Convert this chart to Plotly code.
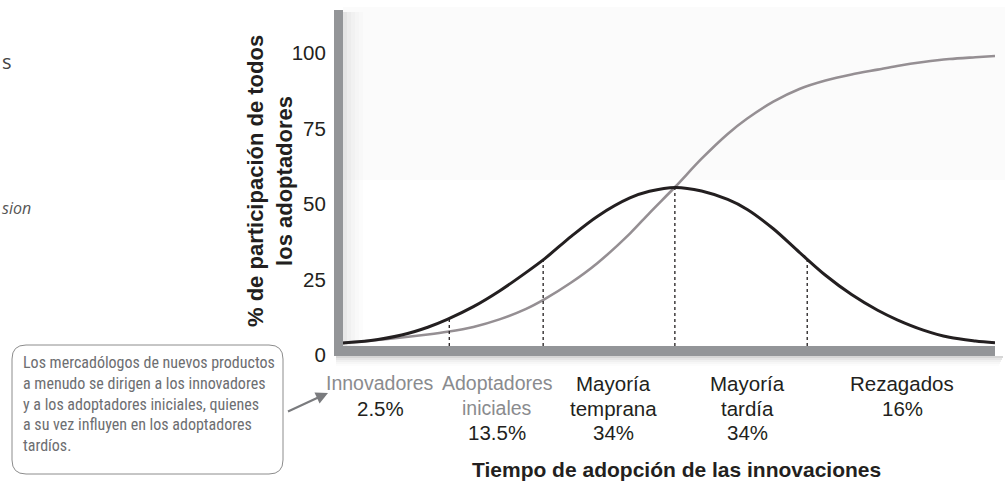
import plotly.graph_objects as go

# ---------------- data ----------------
time_x = [0, 4, 9, 13, 16, 20, 24, 28, 31, 35, 39, 44, 47, 51, 55, 59, 62, 66, 70, 74, 78, 82, 85, 89, 93, 97, 100]
adopters_pct = [4.0, 4.7, 6.6, 9.2, 11.8, 16.0, 21.2, 27.2, 32.0, 39.3, 45.9, 52.0, 54.2, 55.5, 54.3, 51.5,
                48.2, 41.8, 34.0, 26.4, 20.0, 14.8, 11.65, 8.25, 5.85, 4.65, 4.05]
cumulative_pct = [4.0, 4.7, 5.8, 6.8, 7.7, 9.3, 11.8, 15.2, 18.6, 24.0, 30.4, 40.2, 47.0, 55.8, 65.0, 73.2,
                  78.3, 83.9, 88.1, 90.9, 92.9, 94.5, 95.7, 97.0, 98.0, 98.6, 99.0]

divider_x = [16.3, 30.7, 50.9, 71.2]
divider_top = [12.0, 31.5, 55.5, 31.7]
divider_bottom = 3.0

y_ticks = [0, 25, 50, 75, 100]

cat_names = [["Innovadores"], ["Adoptadores", "iniciales"], ["Mayoría", "temprana"],
             ["Mayoría", "tardía"], ["Rezagados"]]
cat_shares = ["2.5%", "13.5%", "34%", "34%", "16%"]
cat_name_gray = [True, True, False, False, False]
cat_center_px = [380, 497, 613, 747, 902]

y_title = "% de participación de todos<br>los adoptadores"
x_title = "Tiempo de adopción de las innovaciones"
note_text = ("Los mercadólogos de nuevos productos<br>a menudo se dirigen a los innovadores<br>"
             "y a los adoptadores iniciales, quienes<br>a su vez influyen en los adoptadores<br>tardíos.")

# ---------------- layout helpers ----------------
W, H = 1005, 482
L, R, T, B = 343, 10, 10, 126
PW, PH = W - L - R, H - T - B


def px(p):
    return (p - L) / PW


def py(p):
    return (H - B - p) / PH


FONT = "Liberation Sans, Arial, Helvetica, sans-serif"
DARK = "#231f20"
GRAY_TXT = "#8a8b8e"
BAR = "#939598"

fig = go.Figure()

fig.add_trace(go.Scatter(x=time_x, y=cumulative_pct, mode="lines",
                         line=dict(color="#958f93", width=2.6, shape="spline", smoothing=0.9),
                         hoverinfo="skip", showlegend=False))
fig.add_trace(go.Scatter(x=time_x, y=adopters_pct, mode="lines",
                         line=dict(color=DARK, width=3, shape="spline", smoothing=0.9),
                         hoverinfo="skip", showlegend=False))

for dx, dt in zip(divider_x, divider_top):
    fig.add_trace(go.Scatter(x=[dx, dx], y=[divider_bottom, dt], mode="lines",
                             line=dict(color=DARK, width=1.3, dash="dot"),
                             hoverinfo="skip", showlegend=False))

shapes = []
# light upper background
shapes.append(dict(type="rect", xref="paper", yref="paper", x0=px(343), x1=px(1005),
                   y0=py(180), y1=py(7), fillcolor="#fbfbfb", line=dict(width=0), layer="below"))
# shadows
for i, a in enumerate([0.09, 0.06, 0.04, 0.022, 0.01]):
    shapes.append(dict(type="rect", xref="paper", yref="paper", x0=px(343 + 4 * i), x1=px(347 + 4 * i),
                       y0=py(346), y1=py(12), fillcolor=f"rgba(0,0,0,{a})", line=dict(width=0), layer="below"))
for i, a in enumerate([0.16, 0.10, 0.06, 0.03, 0.012]):
    shapes.append(dict(type="rect", xref="paper", yref="paper", x0=px(336), x1=px(1003 - i),
                       y0=py(358 + 2 * i), y1=py(356 + 2 * i), fillcolor=f"rgba(0,0,0,{a})",
                       line=dict(width=0), layer="above"))
# axis bars
shapes.append(dict(type="rect", xref="paper", yref="paper", x0=px(334), x1=px(343),
                   y0=py(356), y1=py(10), fillcolor=BAR, line=dict(width=0), layer="above"))
shapes.append(dict(type="rect", xref="paper", yref="paper", x0=px(334), x1=px(995),
                   y0=py(356), y1=py(346), fillcolor=BAR, line=dict(width=0), layer="above"))

# rounded note box
bx0, bx1, by0, by1, r = 12, 283, 345, 474, 14
path = (f"M {px(bx0 + r)} {py(by0)} L {px(bx1 - r)} {py(by0)} "
        f"Q {px(bx1)} {py(by0)} {px(bx1)} {py(by0 + r)} L {px(bx1)} {py(by1 - r)} "
        f"Q {px(bx1)} {py(by1)} {px(bx1 - r)} {py(by1)} L {px(bx0 + r)} {py(by1)} "
        f"Q {px(bx0)} {py(by1)} {px(bx0)} {py(by1 - r)} L {px(bx0)} {py(by0 + r)} "
        f"Q {px(bx0)} {py(by0)} {px(bx0 + r)} {py(by0)} Z")
shapes.append(dict(type="path", xref="paper", yref="paper", path=path,
                   line=dict(color="#8c8c8c", width=1), fillcolor="white", layer="above"))

annotations = []
# y title
annotations.append(dict(text=y_title, xref="paper", yref="paper", x=px(270), y=py(181),
                        xanchor="center", yanchor="middle", textangle=-90, showarrow=False,
                        font=dict(family=FONT, size=22, color=DARK, weight="bold")))
# x title
annotations.append(dict(text="<b>" + x_title + "</b>", xref="paper", yref="paper", x=px(676), y=py(469),
                        xanchor="center", yanchor="middle", showarrow=False,
                        font=dict(family=FONT, size=21, color=DARK)))
# category labels
for names, share, gray, cx in zip(cat_names, cat_shares, cat_name_gray, cat_center_px):
    lines = [(n, GRAY_TXT if gray else DARK, 19.5 if gray else 20.5) for n in names]
    lines.append((share, DARK, 20.5))
    for k, (txt, col, sz) in enumerate(lines):
        annotations.append(dict(text=txt, xref="paper", yref="paper", x=px(cx), y=py(383 + 25 * k),
                                xanchor="center", yanchor="middle", showarrow=False,
                                font=dict(family=FONT, size=sz, color=col)))
# note text
annotations.append(dict(text=note_text, xref="paper", yref="paper", x=px(21), y=py(351),
                        xanchor="left", yanchor="top", align="left", showarrow=False,
                        font=dict(family="Liberation Sans Narrow, Arial Narrow, Roboto Condensed, Liberation Sans, sans-serif",
                                  size=16, color="#6d6e71")))
# arrow
annotations.append(dict(text=" ", xref="paper", yref="paper", x=px(328), y=py(393),
                        ax=-43, ay=20, axref="pixel", ayref="pixel", showarrow=True,
                        arrowhead=2, arrowsize=1.1, arrowwidth=2.2, arrowcolor="#7a7b7e"))
# fragments at left edge
annotations.append(dict(text="s", xref="paper", yref="paper", x=px(0), y=py(61),
                        xanchor="left", yanchor="middle", showarrow=False,
                        font=dict(family="Open Sans, sans-serif", size=20, color="#444444")))
annotations.append(dict(text="<i>sion</i>", xref="paper", yref="paper", x=px(33), y=py(208),
                        xanchor="right", yanchor="middle", showarrow=False,
                        font=dict(family="Open Sans, sans-serif", size=16, color="#555555")))

fig.update_layout(
    width=W, height=H,
    margin=dict(l=L, r=R, t=T, b=B, pad=0),
    paper_bgcolor="white", plot_bgcolor="white",
    showlegend=False,
    xaxis=dict(range=[0, 100], showgrid=False, zeroline=False, showline=False,
               showticklabels=False, ticks=""),
    yaxis=dict(range=[-0.331, 114.24], showgrid=False, zeroline=False, showline=False,
               tickvals=y_ticks, ticktext=[str(v) for v in y_ticks],
               ticks="outside", ticklen=12, tickcolor="rgba(0,0,0,0)",
               tickfont=dict(family=FONT, size=20.5, color=DARK)),
    shapes=shapes,
    annotations=annotations,
)

fig.write_html("out.html", config={"displayModeBar": False},
               post_script="document.body.style.margin='0';")
